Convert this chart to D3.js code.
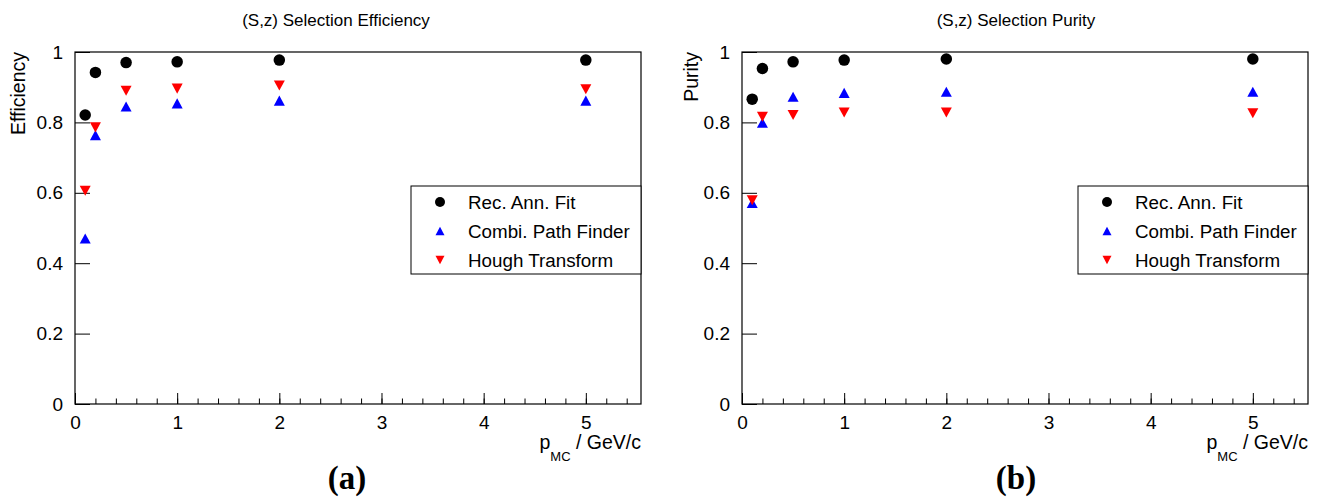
<!DOCTYPE html>
<html>
<head>
<meta charset="utf-8">
<script src="https://cdn.jsdelivr.net/npm/d3@7"></script>
<style>
	body { margin: 0; background: #fff; }
	svg { display: block; font-family: "Liberation Sans", Arial, sans-serif; }
</style>
</head>
<body>
<svg width="1320" height="501"></svg>
<script>
// momentum points (GeV/c)
var momenta = [0.1, 0.2, 0.5, 1, 2, 5];

// efficiency
var effRecAnn = [0.821, 0.942, 0.970, 0.972, 0.977, 0.977];
var effCombi  = [0.470, 0.764, 0.845, 0.854, 0.862, 0.862];
var effHough  = [0.606, 0.786, 0.890, 0.896, 0.905, 0.894];

// purity
var purRecAnn = [0.866, 0.953, 0.972, 0.977, 0.980, 0.980];
var purCombi  = [0.571, 0.799, 0.873, 0.884, 0.887, 0.887];
var purHough  = [0.579, 0.816, 0.821, 0.828, 0.828, 0.826];

var xTicks = [0, 1, 2, 3, 4, 5];
var yTicks = [0, 0.2, 0.4, 0.6, 0.8, 1];
var seriesNames = ["Rec. Ann. Fit", "Combi. Path Finder", "Hough Transform"];
var seriesColors = ["#000000", "#0000ff", "#ff0000"];
var seriesShapes = ["circle", "up", "down"];

var svg = d3.select("svg");

function marker(sel, shape, size) {
	if (shape == "circle") {
		sel.append("circle").attr("r", size / 2);
	} else {
		var h = size * 0.92, w = size / 2;
		var pts = shape == "up"
			? [[-w, h / 2], [w, h / 2], [0, -h / 2]]
			: [[-w, -h / 2], [w, -h / 2], [0, h / 2]];
		sel.append("path").attr("d", "M" + pts.join("L") + "Z");
	}
}

function drawPanel(opt) {
	var left = opt.left, right = opt.right, top = 52, bottom = 404;

	var x = d3.scaleLinear().domain([0, 5.54]).range([left, right]);
	var y = d3.scaleLinear().domain([0, 1]).range([bottom, top]);

	var g = svg.append("g");

	g.append("text")
		.attr("x", opt.titleX)
		.attr("y", 26)
		.attr("text-anchor", "middle")
		.attr("font-size", 17)
		.text(opt.title);

	// minor x ticks
	g.append("g")
		.attr("transform", "translate(0," + bottom + ")")
		.call(d3.axisBottom(x).tickValues(d3.range(0, 5.6, 0.2)).tickSize(-5.5).tickFormat(""))
		.call(function (a) { a.select(".domain").remove(); });

	var xa = g.append("g")
		.attr("transform", "translate(0," + bottom + ")")
		.call(d3.axisBottom(x).tickValues(xTicks).tickSize(-11).tickPadding(12).tickFormat(d3.format("")));
	xa.select(".domain").remove();
	xa.selectAll("text").attr("font-size", 19).attr("font-family", null).attr("fill", "#000");

	var ya = g.append("g")
		.attr("transform", "translate(" + left + ",0)")
		.call(d3.axisLeft(y).tickValues(yTicks).tickSize(-15).tickPadding(12).tickFormat(d3.format("")));
	ya.select(".domain").remove();
	ya.selectAll("text").attr("font-size", 19).attr("font-family", null).attr("fill", "#000");

	g.append("rect")
		.attr("x", left).attr("y", top)
		.attr("width", right - left).attr("height", bottom - top)
		.attr("fill", "none").attr("stroke", "#000").attr("stroke-width", 1.2);

	g.append("text")
		.attr("transform", "translate(" + (left - opt.yLabelOffset) + "," + top + ") rotate(-90)")
		.attr("text-anchor", "end")
		.attr("font-size", 19.5)
		.text(opt.yLabel);

	var xl = g.append("text")
		.attr("x", right)
		.attr("y", 449)
		.attr("text-anchor", "end")
		.attr("font-size", 19.5);
	xl.append("tspan").text("p");
	xl.append("tspan").attr("font-size", 13).attr("dy", 12).text("MC");
	xl.append("tspan").attr("dy", -12).text(" / GeV/c");

	// data markers
	opt.series.forEach(function (vals, i) {
		var s = g.append("g").attr("fill", seriesColors[i]);
		s.selectAll("g")
			.data(momenta.map(function (m, j) { return [m, vals[j]]; }))
			.enter().append("g")
			.attr("transform", function (d) { return "translate(" + x(d[0]) + "," + y(d[1]) + ")"; })
			.each(function () { marker(d3.select(this), seriesShapes[i], i == 0 ? 11.5 : 11); });
	});

	// legend
	var lx = right - 230, ly = 186;
	var leg = g.append("g");
	leg.append("rect")
		.attr("x", lx).attr("y", ly)
		.attr("width", right - lx).attr("height", 88)
		.attr("fill", "#fff").attr("stroke", "#000").attr("stroke-width", 1);
	seriesNames.forEach(function (name, i) {
		var row = leg.append("g").attr("transform", "translate(0," + (ly + 16 + i * 29) + ")");
		var m = row.append("g").attr("transform", "translate(" + (lx + 29) + ",0)").attr("fill", seriesColors[i]);
		marker(m, seriesShapes[i], i == 0 ? 10 : 9);
		row.append("text")
			.attr("x", lx + 57)
			.attr("y", 7)
			.attr("font-size", 18.8)
			.text(name);
	});

	g.append("text")
		.attr("x", opt.tagX)
		.attr("y", 489)
		.attr("text-anchor", "middle")
		.attr("font-family", "'Liberation Serif', 'Times New Roman', serif")
		.attr("font-weight", "bold")
		.attr("font-size", 33)
		.text(opt.tag);
}

drawPanel({
	left: 75, right: 641,
	title: "(S,z) Selection Efficiency", titleX: 336,
	yLabel: "Efficiency", yLabelOffset: 50,
	series: [effRecAnn, effCombi, effHough],
	tag: "(a)", tagX: 347
});

drawPanel({
	left: 742, right: 1308,
	title: "(S,z) Selection Purity", titleX: 1016,
	yLabel: "Purity", yLabelOffset: 44,
	series: [purRecAnn, purCombi, purHough],
	tag: "(b)", tagX: 1016
});
</script>
</body>
</html>
